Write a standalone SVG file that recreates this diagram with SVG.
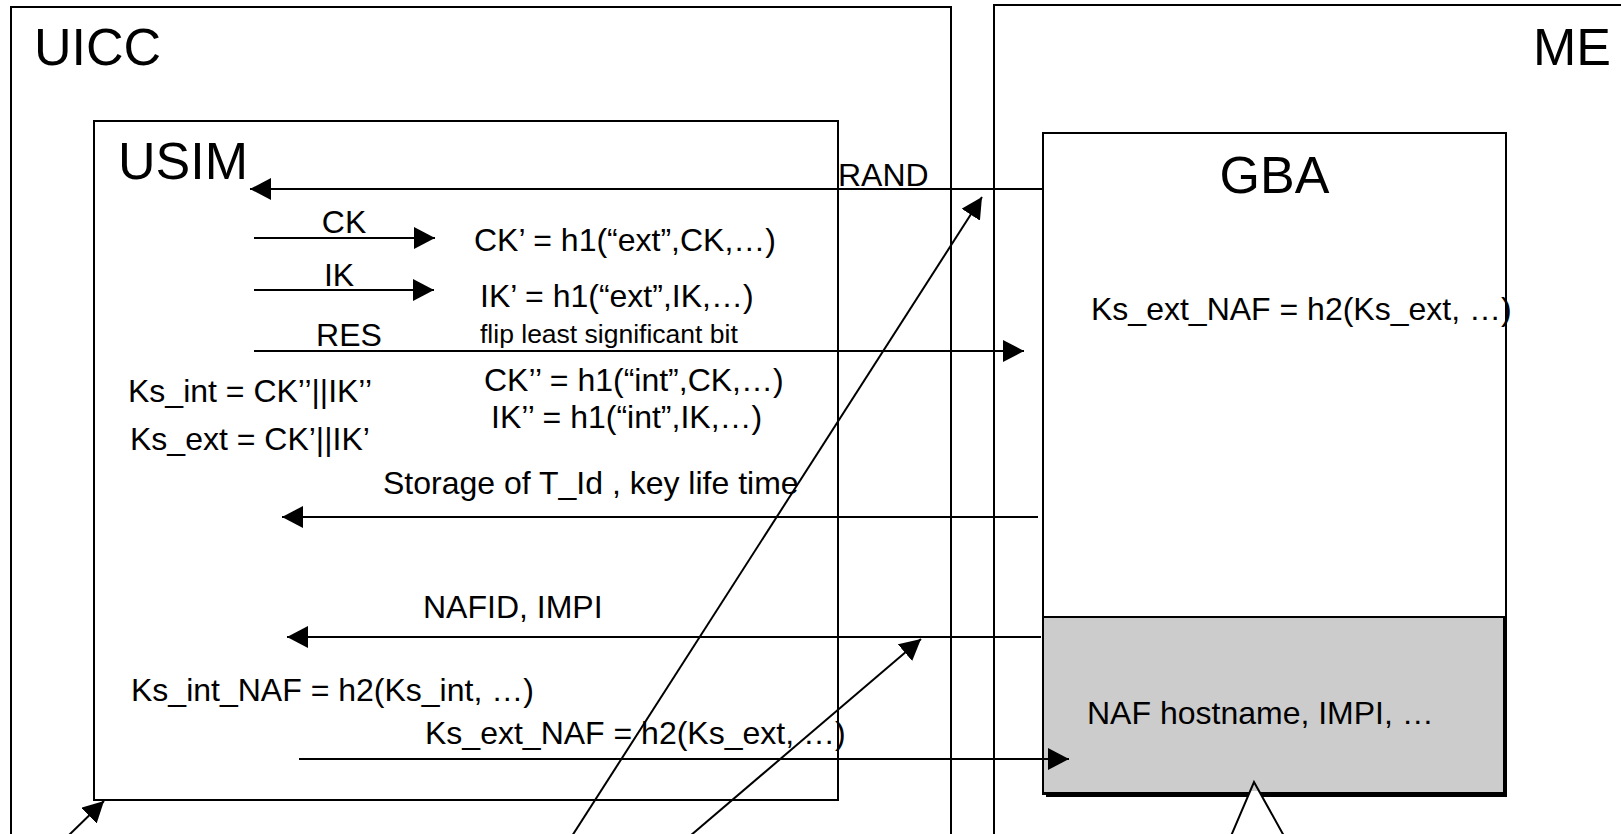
<svg xmlns="http://www.w3.org/2000/svg" width="1621" height="834" viewBox="0 0 1621 834">
<style>
.box{fill:none;stroke:#000;stroke-width:2}
.t{font-family:"Liberation Sans",Arial,sans-serif;fill:#000}
.big{font-size:52px}
.mid{font-size:32px}
.sm{font-size:26.5px}
.c{stroke:#000;stroke-width:2;fill:none}
</style>
<defs>
<marker id="ah" markerUnits="userSpaceOnUse" markerWidth="22" markerHeight="22" refX="21" refY="11" orient="auto">
<path d="M0,0 L21,11 L0,22 Z" fill="#000"/>
</marker>
</defs>
<rect width="1621" height="834" fill="#fff"/>
<g id="uicc">
<path class="box" d="M11,840 V7 H951 V840"/>
<text class="t big" x="34" y="65">UICC</text>
</g>
<g id="me">
<path class="box" d="M994,840 V5 H1630"/>
<text class="t big" x="1533" y="65">ME</text>
</g>
<g id="usim">
<rect class="box" x="94" y="121" width="744" height="679"/>
<text class="t big" x="118" y="179">USIM</text>
<text class="t mid" x="474" y="251">CK’ = h1(“ext”,CK,…)</text>
<text class="t mid" x="480" y="307">IK’ = h1(“ext”,IK,…)</text>
<text class="t sm" x="480" y="343">flip least significant bit</text>
<text class="t mid" x="484" y="391">CK’’ = h1(“int”,CK,…)</text>
<text class="t mid" x="491" y="428">IK’’ = h1(“int”,IK,…)</text>
<text class="t mid" x="128" y="402">Ks_int = CK’’||IK’’</text>
<text class="t mid" x="130" y="450">Ks_ext = CK’||IK’</text>
<text class="t mid" x="131" y="701">Ks_int_NAF = h2(Ks_int, …)</text>
</g>
<g id="gba">
<rect class="box" x="1043" y="133" width="463" height="661"/>
<text class="t big" x="1274.5" y="193" text-anchor="middle">GBA</text>
<text class="t mid" x="1091" y="320">Ks_ext_NAF = h2(Ks_ext, …)</text>
</g>
<g id="naf-store">
<rect x="1046" y="620" width="461" height="177" fill="#000"/>
<rect x="1043" y="617" width="461" height="176" fill="#cccccc" stroke="#000" stroke-width="2"/>
<text class="t mid" x="1087" y="724">NAF hostname, IMPI, …</text>
</g>
<g id="pointer">
<polygon points="1250,791 1259,791 1285,836 1231,836" fill="#fff"/>
<polyline class="c" points="1231,836 1254,782 1284,836"/>
</g>
<g id="connectors">
<line class="c" x1="1043" y1="189" x2="250" y2="189" marker-end="url(#ah)"/>
<line class="c" x1="254" y1="238" x2="435" y2="238" marker-end="url(#ah)"/>
<line class="c" x1="254" y1="290" x2="434" y2="290" marker-end="url(#ah)"/>
<line class="c" x1="254" y1="351" x2="1024" y2="351" marker-end="url(#ah)"/>
<line class="c" x1="1038" y1="517" x2="282" y2="517" marker-end="url(#ah)"/>
<line class="c" x1="1041" y1="637" x2="287" y2="637" marker-end="url(#ah)"/>
<line class="c" x1="299" y1="759" x2="1069" y2="759" marker-end="url(#ah)"/>
<line class="c" x1="572" y1="836" x2="982" y2="197" marker-end="url(#ah)"/>
<line class="c" x1="690" y1="836" x2="921" y2="639" marker-end="url(#ah)"/>
<line class="c" x1="68" y1="836" x2="104" y2="801" marker-end="url(#ah)"/>
<text class="t mid" x="838" y="186">RAND</text>
<text class="t mid" x="344" y="233" text-anchor="middle">CK</text>
<text class="t mid" x="339" y="286" text-anchor="middle">IK</text>
<text class="t mid" x="349" y="346" text-anchor="middle">RES</text>
<text class="t mid" x="383" y="494">Storage of T_Id , key life time</text>
<text class="t mid" x="423" y="618">NAFID, IMPI</text>
<text class="t mid" x="425" y="744">Ks_ext_NAF = h2(Ks_ext, …)</text>
</g>
</svg>
